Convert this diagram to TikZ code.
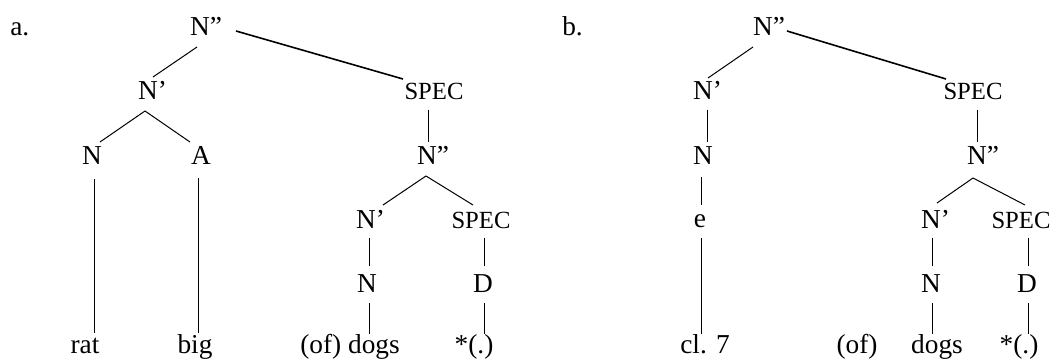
\documentclass[tikz,border=0pt]{standalone}
\usepackage{fontspec}
\setmainfont{Liberation Serif}
\begin{document}
\begin{tikzpicture}[x=0.75pt,y=-0.75pt,
  lab/.style={anchor=base,inner sep=0pt,font=\fontsize{20.5}{24}\selectfont},
  sm/.style={anchor=base,inner sep=0pt,font=\fontsize{18.5}{22}\selectfont},
  br/.style={line width=0.75pt},
  longbr/.style={line width=1.2pt}]
\useasboundingbox (0,0) rectangle (1050,360);
% ---------- tree a ----------
\node[lab,anchor=base west] (la) at (10,36) {a.};
\node[lab] (r1) at (200,36) {N\rlap{”}};
\node[lab] (np1) at (148,100) {N\rlap{’}};
\node[sm] (sp1) at (434,100) {SPEC};
\node[lab] (n1) at (92,164) {N};
\node[lab] (a1) at (201,164) {A};
\node[lab] (nn1) at (427,164) {N\rlap{”}};
\node[lab] (np2) at (366,228) {N\rlap{’}};
\node[sm] (sp2) at (481,228) {SPEC};
\node[lab] (n2) at (367,292) {N};
\node[lab] (d1) at (483,292) {D};
\node[lab] (rat) at (85,353) {rat};
\node[lab] (big) at (195,353) {big};
\node[lab,anchor=base east] (ofdogs) at (400,353) {(of) dogs};
\node[lab] (star1) at (474,353) {*(.)};
\draw[br] ([shift={(-3,11)}]r1.base) -- ([shift={(5,-23)}]np1.base);
\draw[longbr] ([shift={(36,-5)}]r1.base) -- ([shift={(-31,-21)}]sp1.base);
\draw[br] ([shift={(-3,11)}]np1.base) -- ([shift={(8,-22)}]n1.base);
\draw[br] ([shift={(-3,11)}]np1.base) -- ([shift={(-11,-22)}]a1.base);
\draw[br] ([shift={(2,15)}]n1.base) -- ([shift={(9,-20)}]rat.base);
\draw[br] ([shift={(-3,14)}]a1.base) -- ([shift={(3,-20)}]big.base);
\draw[br] ([shift={(-6,10)}]sp1.base) -- ([shift={(1,-22)}]nn1.base);
\draw[br] ([shift={(-1,12)}]nn1.base) -- ([shift={(17,-23)}]np2.base);
\draw[br] ([shift={(-1,12)}]nn1.base) -- ([shift={(-8,-23)}]sp2.base);
\draw[br] ([shift={(3,10)}]np2.base) -- ([shift={(2,-26)}]n2.base);
\draw[br] ([shift={(2,11)}]n2.base) -- ([shift={(-31,-19)}]ofdogs.base east);
\draw[br] ([shift={(3,10)}]sp2.base) -- ([shift={(1,-26)}]d1.base);
\draw[br] ([shift={(1,11)}]d1.base) -- ([shift={(10,-19)}]star1.base);
% ---------- tree b ----------
\node[lab,anchor=base west] (lb) at (562,36) {b.};
\node[lab] (r2) at (763,36) {N\rlap{”}};
\node[lab] (np3) at (703,100) {N\rlap{’}};
\node[sm] (sp3) at (973,100) {SPEC};
\node[lab] (n3) at (703,164) {N};
\node[lab] (nn2) at (977,164) {N\rlap{”}};
\node[lab] (e) at (700,227) {e};
\node[lab] (cl7) at (705,353) {cl. 7};
\node[lab] (np4) at (931,228) {N\rlap{’}};
\node[sm] (sp4) at (1021,228) {SPEC};
\node[lab] (n4) at (931,292) {N};
\node[lab] (d2) at (1027,292) {D};
\node[lab] (of2) at (857,353) {(of)};
\node[lab] (dogs2) at (937,353) {dogs};
\node[lab] (star2) at (1019,353) {*(.)};
\draw[br] ([shift={(-10,11)}]r2.base) -- ([shift={(5,-22)}]np3.base);
\draw[longbr] ([shift={(24,-5)}]r2.base) -- ([shift={(-27,-21)}]sp3.base);
\draw[br] ([shift={(4,10)}]np3.base) -- ([shift={(4,-22)}]n3.base);
\draw[br] ([shift={(4,10)}]sp3.base) -- ([shift={(0,-22)}]nn2.base);
\draw[br] ([shift={(-2,13)}]n3.base) -- ([shift={(1,-22)}]e.base);
\draw[br] ([shift={(1,11)}]e.base) -- ([shift={(-4,-19)}]cl7.base);
\draw[br] ([shift={(-4,14)}]nn2.base) -- ([shift={(6,-25)}]np4.base);
\draw[br] ([shift={(-4,14)}]nn2.base) -- ([shift={(4,-23)}]sp4.base);
\draw[br] ([shift={(1,10)}]np4.base) -- ([shift={(1,-26)}]n4.base);
\draw[br] ([shift={(1,11)}]n4.base) -- ([shift={(-5,-19)}]dogs2.base);
\draw[br] ([shift={(7,10)}]sp4.base) -- ([shift={(1,-26)}]d2.base);
\draw[br] ([shift={(1,11)}]d2.base) -- ([shift={(9,-19)}]star2.base);
\end{tikzpicture}
\end{document}
